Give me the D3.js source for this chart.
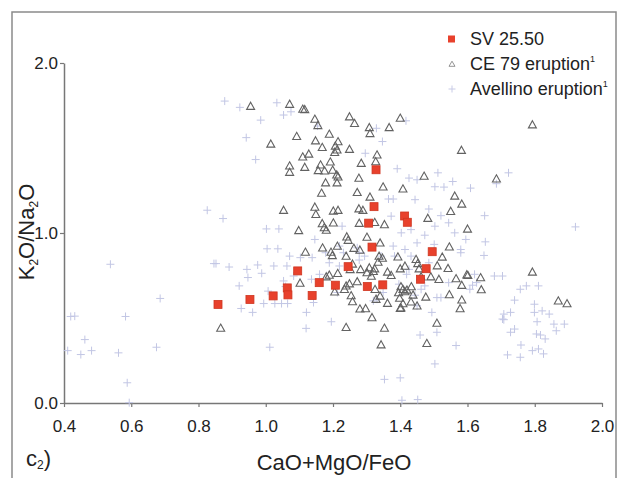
<!DOCTYPE html>
<html>
<head>
<meta charset="utf-8">
<script src="https://cdn.jsdelivr.net/npm/d3@7"></script>
<style>
  body { margin: 0; background: #fff; }
  text { font-family: "Liberation Sans", Arial, sans-serif; fill: #222; }
</style>
</head>
<body>
<script>
// SV 25.50 glass
var svX = [0.858,0.953,1.022,1.064,1.066,1.095,1.138,1.159,1.207,1.245,1.302,1.348,1.316,1.306,1.322,1.328,1.413,1.421,1.460,1.477,1.495];
var svY = [0.580,0.609,0.630,0.677,0.636,0.777,0.632,0.708,0.693,0.802,0.685,0.695,0.917,1.058,1.155,1.372,1.100,1.063,0.728,0.790,0.890];

// CE 79 eruption
var ceX = [0.955,1.071,1.110,1.116,1.146,1.155,1.249,1.264,1.308,1.310,1.367,1.400,1.092,1.015,1.148,1.189,1.168,1.207,1.215,1.205,
  1.212,1.128,1.110,1.116,1.071,1.071,1.163,1.156,1.175,1.192,1.199,1.211,1.215,1.212,1.249,1.331,1.327,1.284,1.277,1.349,
  1.178,1.166,1.272,1.310,1.408,1.471,1.562,1.583,1.582,1.686,1.793,1.550,1.146,1.149,1.053,1.201,1.215,1.168,1.174,1.180,
  1.201,1.098,1.277,1.289,1.278,1.324,1.353,1.482,1.600,1.241,1.245,1.301,1.340,1.213,1.194,1.198,1.169,1.118,1.262,1.280,
  1.239,1.258,1.251,1.214,1.189,1.180,1.102,1.249,1.272,1.308,1.282,1.301,1.314,1.320,1.334,1.337,1.347,1.324,1.362,1.393,
  1.400,1.373,1.414,1.447,1.452,1.456,1.462,1.525,1.510,1.515,1.542,1.546,1.566,1.598,1.601,1.583,1.639,1.641,1.433,1.402,
  1.408,1.414,1.420,1.395,1.398,1.438,1.408,1.400,1.402,1.432,1.476,1.450,1.546,1.583,1.578,1.509,1.479,1.870,1.896,1.793,
  1.239,1.234,1.254,1.258,1.239,1.280,1.297,1.316,1.328,1.340,1.362,1.353,1.343,1.205,0.866,1.491,1.325];
var ceY = [1.746,1.758,1.729,1.727,1.670,1.633,1.684,1.645,1.621,1.586,1.621,1.676,1.569,1.524,1.543,1.582,1.504,1.512,1.538,1.475,
  1.489,1.465,1.448,1.387,1.395,1.358,1.401,1.368,1.366,1.419,1.370,1.342,1.331,1.296,1.493,1.460,1.420,1.411,1.323,1.272,
  1.296,1.235,1.239,1.212,1.260,1.335,1.218,1.171,1.487,1.319,1.637,1.128,1.153,1.110,1.134,1.130,1.134,1.056,1.032,1.017,
  1.060,1.015,1.143,1.134,1.058,1.063,1.050,1.087,1.024,0.978,0.958,0.976,0.942,0.923,0.888,0.868,0.913,0.888,0.911,0.900,
  0.864,0.818,0.786,0.763,0.753,0.743,0.706,0.702,0.714,0.796,0.786,0.767,0.747,0.775,0.829,0.864,0.853,0.790,0.771,0.860,
  0.790,0.751,0.806,0.845,0.821,0.790,0.743,0.859,0.808,0.728,0.792,0.919,0.732,0.755,0.751,0.693,0.738,0.667,0.685,0.685,
  0.669,0.656,0.665,0.650,0.617,0.636,0.585,0.558,0.560,0.595,0.624,0.572,0.638,0.607,0.556,0.470,0.351,0.601,0.585,0.771,
  0.689,0.669,0.632,0.597,0.445,0.554,0.556,0.503,0.611,0.630,0.587,0.441,0.343,0.654,0.441,0.743,0.669];

// Avellino eruption
var avX = [0.878,0.923,1.033,1.053,1.075,0.985,0.942,0.970,1.154,1.329,1.417,1.347,1.391,1.450,1.426,1.512,1.503,1.530,1.609,1.722,
  1.686,1.444,1.379,1.365,1.485,1.521,1.544,1.651,1.653,1.649,1.921,1.562,1.503,1.450,1.580,1.414,1.379,1.403,1.373,1.432,
  1.473,1.002,1.039,0.826,0.873,1.004,1.036,1.071,1.103,1.138,1.146,1.227,1.272,1.294,1.278,0.852,0.891,0.944,0.976,0.988,
  1.024,1.063,1.083,1.053,0.921,0.947,0.927,0.961,0.994,1.027,1.047,1.065,1.121,1.195,1.120,1.012,0.846,0.538,0.686,0.583,
  0.420,0.432,0.462,0.411,0.450,0.482,0.562,0.675,0.588,0.594,1.353,1.400,1.405,1.452,1.503,1.566,1.509,1.459,1.494,1.450,
  1.521,1.680,1.704,1.607,1.757,1.775,1.811,1.740,1.708,1.728,1.708,1.740,1.728,1.759,1.757,1.719,1.799,1.822,1.843,1.799,
  1.807,1.857,1.888,1.864,1.805,1.817,1.831,1.793,1.811,1.826,1.704,1.343,1.383,1.419,1.462,1.444,1.396,1.349,1.331,1.627,
  1.621,1.580,1.615,1.219,1.231,1.278,1.189,1.219,1.178,1.136,1.160,1.059,1.007,1.213,1.142,1.320,1.509,1.473,1.544,1.426,
  1.485,1.432,1.501,1.595,1.296,1.556];
var avY = [1.776,1.739,1.766,1.694,1.713,1.664,1.561,1.432,1.629,1.616,1.660,1.538,1.378,1.313,1.323,1.354,1.272,1.270,1.264,1.354,
  1.290,1.196,1.200,1.200,1.141,1.102,1.060,1.102,0.948,0.868,1.036,1.001,1.040,0.942,0.903,0.903,0.923,1.001,1.099,1.020,
  0.987,1.024,1.024,1.134,1.085,0.907,0.907,0.864,0.855,0.855,0.962,1.040,0.913,0.864,0.841,0.820,0.800,0.786,0.812,0.763,
  0.806,0.806,0.747,0.718,0.689,0.738,0.556,0.533,0.585,0.585,0.585,0.585,0.533,0.478,0.439,0.328,0.820,0.816,0.615,0.509,
  0.509,0.511,0.373,0.308,0.285,0.308,0.295,0.328,0.119,0.002,0.139,0.148,0.016,0.020,0.230,0.338,0.416,0.400,0.533,0.572,
  0.620,0.747,0.747,0.669,0.669,0.689,0.689,0.605,0.523,0.533,0.490,0.435,0.416,0.341,0.269,0.283,0.533,0.542,0.523,0.581,
  0.478,0.464,0.464,0.425,0.406,0.400,0.377,0.308,0.318,0.289,0.494,0.864,0.864,0.757,0.669,0.634,0.699,0.650,0.611,0.708,
  0.757,0.884,0.693,0.923,0.884,0.884,0.825,0.806,0.884,0.728,0.757,0.685,0.658,0.650,0.591,0.601,0.620,0.689,0.708,0.786,
  0.825,0.864,0.933,0.962,1.469,1.303];

var xTicks = [0.4,0.6,0.8,1.0,1.2,1.4,1.6,1.8,2.0];
var yTicks = [0.0,1.0,2.0];

function main() {
  document.body.innerHTML = '<svg width="622" height="478"></svg>';
  var svg = d3.select("svg");

  // outer frame of the panel
  svg.append("rect").attr("x", 12).attr("y", 12).attr("width", 604).attr("height", 480)
    .attr("fill", "none").attr("stroke", "#8a8a8a").attr("stroke-width", 1.5);

  var x = d3.scaleLinear().domain([0.4, 2.0]).range([64, 602]);
  var y = d3.scaleLinear().domain([0, 2.0]).range([403, 63]);

  var xAxis = svg.append("g").attr("transform", "translate(0,403)")
    .call(d3.axisBottom(x).tickValues(xTicks).tickFormat(d3.format(".1f")).tickSize(4).tickSizeOuter(0).tickPadding(13));
  var yAxis = svg.append("g").attr("transform", "translate(64,0)")
    .call(d3.axisLeft(y).tickValues(yTicks).tickFormat(d3.format(".1f")).tickSize(4).tickSizeOuter(0).tickPadding(2));
  [xAxis, yAxis].forEach(function(a) {
    a.select(".domain").attr("stroke", "#777").attr("stroke-width", 1.5);
    a.selectAll(".tick line").attr("stroke", "#777").attr("stroke-width", 1.2);
    a.selectAll(".tick text").attr("font-size", 17).attr("font-family", "Liberation Sans, Arial, sans-serif").attr("fill", "#222");
  });

  var plot = svg.append("g");

  // Avellino crosses
  var av = avX.map(function(v, i) { return [v, avY[i]]; });
  plot.selectAll(".av").data(av).enter().append("path")
    .attr("transform", function(d) { return "translate(" + x(d[0]) + "," + y(d[1]) + ")"; })
    .attr("d", "M-4,0H4M0,-4V4")
    .attr("stroke", "#c2c6e4").attr("stroke-width", 1).attr("fill", "none");

  // CE 79 triangles
  var ce = ceX.map(function(v, i) { return [v, ceY[i]]; });
  plot.selectAll(".ce").data(ce).enter().append("path")
    .attr("transform", function(d) { return "translate(" + x(d[0]) + "," + y(d[1]) + ")"; })
    .attr("d", "M0,-4L4,3.2L-4,3.2Z")
    .attr("stroke", "#626262").attr("stroke-width", 1.1).attr("fill", "none");

  // SV 25.50 squares
  var sv = svX.map(function(v, i) { return [v, svY[i]]; });
  plot.selectAll(".sv").data(sv).enter().append("rect")
    .attr("x", function(d) { return x(d[0]) - 4; })
    .attr("y", function(d) { return y(d[1]) - 4; })
    .attr("width", 8).attr("height", 8)
    .attr("fill", "#e8412c").attr("stroke", "#cf3620").attr("stroke-width", 0.8);

  // axis titles
  var yt = svg.append("text").attr("transform", "translate(34,232) rotate(-90)")
    .attr("text-anchor", "middle").attr("font-size", 22);
  yt.append("tspan").text("K");
  yt.append("tspan").attr("font-size", 12).attr("dy", 4).text("2");
  yt.append("tspan").attr("dy", -4).text("O/Na");
  yt.append("tspan").attr("font-size", 12).attr("dy", 4).text("2");
  yt.append("tspan").attr("dy", -4).text("O");

  svg.append("text").attr("x", 334).attr("y", 470).attr("text-anchor", "middle")
    .attr("font-size", 22).text("CaO+MgO/FeO");

  var lab = svg.append("text").attr("x", 26).attr("y", 466).attr("font-size", 22);
  lab.append("tspan").text("c");
  lab.append("tspan").attr("font-size", 12).attr("dy", 3).text("2");
  lab.append("tspan").attr("dy", -3).text(")");

  // legend
  var lg = svg.append("g");
  lg.append("rect").attr("x", 448).attr("y", 35.5).attr("width", 7).attr("height", 7).attr("fill", "#e8412c");
  lg.append("path").attr("transform", "translate(452,64)").attr("d", "M0,-2.8L3,2.3L-3,2.3Z")
    .attr("stroke", "#888").attr("stroke-width", 0.9).attr("fill", "none");
  lg.append("path").attr("transform", "translate(452,89)").attr("d", "M-3.5,0H3.5M0,-3.5V3.5")
    .attr("stroke", "#c8cbe6").attr("stroke-width", 1).attr("fill", "none");

  lg.append("text").attr("x", 470).attr("y", 45).attr("font-size", 18).text("SV 25.50");
  var t2 = lg.append("text").attr("x", 470).attr("y", 70).attr("font-size", 18);
  t2.append("tspan").text("CE 79 eruption");
  t2.append("tspan").attr("font-size", 9).attr("dy", -8).text("1");
  var t3 = lg.append("text").attr("x", 470).attr("y", 95).attr("font-size", 18);
  t3.append("tspan").text("Avellino eruption");
  t3.append("tspan").attr("font-size", 9).attr("dy", -8).text("1");
}
main();
</script>
</body>
</html>
